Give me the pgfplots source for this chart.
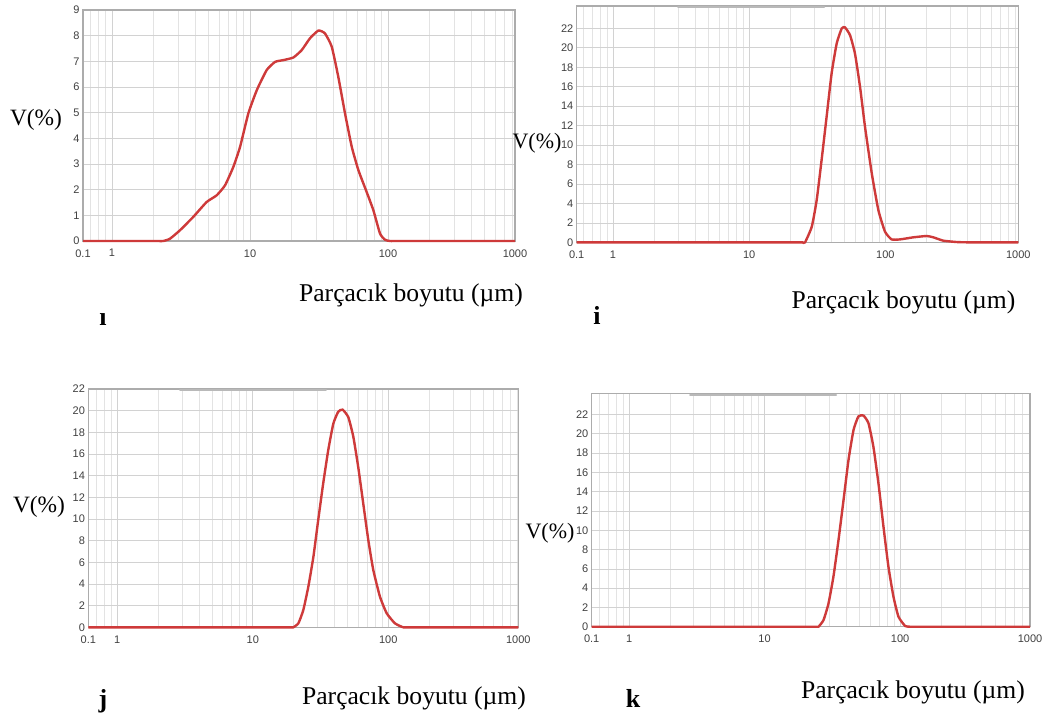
\documentclass[border=0pt]{standalone}
\usepackage{fontspec}
\setmainfont{Liberation Serif}
\newfontfamily\tickfont{Liberation Sans}
\usepackage{pgfplots}
\pgfplotsset{compat=1.18}
\definecolor{psdred}{RGB}{206,58,58}
\pgfplotsset{
  every axis/.append style={
    scale only axis, anchor=south west, ymin=0,
    grid=both,
    major grid style={gray!35, line width=0.35pt},
    minor grid style={gray!22, line width=0.3pt},
    axis line style={gray!65, line width=0.6pt},
    major tick length=0pt, minor tick length=0pt,
    tick style={draw=none},
    xticklabel style={font={\tickfont\fontsize{5.5pt}{6pt}\selectfont}, text=black!75, inner sep=1.5pt, yshift=-2.5pt},
    yticklabel style={font={\tickfont\fontsize{5.5pt}{6pt}\selectfont}, text=black!75, inner sep=1.5pt},
    clip=false,
  },
}
\begin{document}
\begin{tikzpicture}
\useasboundingbox (0pt,0pt) rectangle (527.5pt,-360pt);
\fill[white] (0pt,0pt) rectangle (527.5pt,-360pt);

% ---------------- panel ı ----------------
\begin{axis}[xmode=log, at={(41.5pt,-120.5pt)}, width=216pt, height=115.5pt,
  xmin=0.616, xmax=832, ymax=9, ytick={0,1,...,9},
  xtick={0.616,1,10,100,832}, xticklabels={0.1,1,10,100,1000},
  minor xtick={0.7,0.8,0.9,2,3,4,5,6,7,8,9,20,30,40,50,60,70,80,90,200,300,400,500,600,700,800},
  /pgf/number format/assume math mode=true]
\addplot[psdred, line width=1.2pt, smooth, tension=0.3] coordinates {
(0.616,0) (1,0) (2.1,0) (2.35,0) (2.63,0.09) (3.11,0.42) (3.88,0.94) (4.85,1.52) (5.73,1.78)
(6.59,2.17) (7.57,2.89) (8.47,3.67) (9.72,4.97) (11.2,5.88) (13.2,6.66) (15.2,6.98)
(17.5,7.05) (20.6,7.15) (23.7,7.44) (27.2,7.9) (31.3,8.2) (34.9,8.09) (39.1,7.57)
(43.6,6.4) (48.8,4.97) (54.6,3.67) (61.0,2.76) (70.0,1.91) (78.3,1.2) (87.5,0.29)
(95.1,0.05) (103,0) (115,0) (300,0) (832,0)};
\end{axis}

% ---------------- panel i ----------------
\begin{axis}[xmode=log, at={(288.35pt,-121.15pt)}, width=220.8pt, height=118.15pt,
  xmin=0.541, xmax=946, ymax=24.3, ytick={0,2,...,22},
  xtick={0.541,1,10,100,946}, xticklabels={0.1,1,10,100,1000},
  minor xtick={0.6,0.7,0.8,0.9,2,3,4,5,6,7,8,9,20,30,40,50,60,70,80,90,200,300,400,500,600,700,800,900},
  /pgf/number format/assume math mode=true]
\addplot[psdred, line width=1.2pt, smooth, tension=0.3] coordinates {
(0.541,0) (1,0) (10,0) (22,0) (24.5,0) (25.7,0) (28.8,1.61) (31.3,4.35) (34.0,8.46) (37.0,12.9)
(40.3,17.4) (43.9,20.46) (47.8,22.0) (50.5,22.1) (55.0,21.3) (59.8,19.4) (65.1,16.0)
(70.8,11.9) (79.4,7.1) (88.8,3.3) (99.3,1.1) (111,0.3) (128,0.3) (160,0.51)
(201,0.65) (225,0.51) (266,0.17) (333,0.03) (400,0) (946,0)};
\end{axis}

% ---------------- panel j ----------------
\begin{axis}[xmode=log, at={(44.15pt,-313.65pt)}, width=215pt, height=119.15pt,
  xmin=0.611, xmax=911, ymax=22, ytick={0,2,...,22},
  xtick={0.611,1,10,100,911}, xticklabels={0.1,1,10,100,1000},
  minor xtick={0.7,0.8,0.9,2,3,4,5,6,7,8,9,20,30,40,50,60,70,80,90,200,300,400,500,600,700,800,900},
  /pgf/number format/assume math mode=true]
\addplot[psdred, line width=1.2pt, smooth, tension=0.3] coordinates {
(0.611,0) (1,0) (10,0) (17.5,0) (19.0,0) (19.9,0) (21.7,0.37) (23.6,1.6) (25.7,3.75) (28.0,6.5)
(30.4,9.9) (33.1,13.3) (36.1,16.4) (39.3,18.8) (42.7,19.9) (46.0,20.1) (50.7,19.4)
(55.2,17.6) (60.0,14.8) (65.4,11.4) (71.2,8.06) (77.5,5.3) (86.8,2.83) (97.3,1.3)
(112,0.37) (129,0) (145,0) (300,0) (911,0)};
\end{axis}

% ---------------- panel k ----------------
\begin{axis}[xmode=log, at={(295.85pt,-313.35pt)}, width=219.15pt, height=116.7pt,
  xmin=0.53, xmax=908, ymax=24.2, ytick={0,2,...,22},
  xtick={0.53,1,10,100,908}, xticklabels={0.1,1,10,100,1000},
  minor xtick={0.6,0.7,0.8,0.9,2,3,4,5,6,7,8,9,20,30,40,50,60,70,80,90,200,300,400,500,600,700,800,900},
  /pgf/number format/assume math mode=true]
\addplot[psdred, line width=1.2pt, smooth, tension=0.3] coordinates {
(0.53,0) (1,0) (10,0) (22,0) (24,0) (25.0,0) (27.2,0.69) (29.6,2.4) (32.2,5.2) (35.1,9.0)
(38.2,13.1) (41.6,17.3) (45.3,20.4) (49.2,21.8) (53.6,21.9) (58.4,21.1) (63.5,18.65)
(69.2,14.85) (75.3,10.4) (82.0,6.2) (89.3,3.1) (97.2,1.04) (109,0.07) (120,0) (135,0)
(300,0) (908,0)};
\end{axis}

% faint blurred header remnants on the top frames
\draw[gray!55, line width=1pt, line cap=round] (339pt,-3.6pt) -- (412pt,-3.6pt);
\draw[gray!55, line width=1pt, line cap=round] (90pt,-195.2pt) -- (163pt,-195.2pt);
\draw[gray!55, line width=1pt, line cap=round] (345pt,-197.3pt) -- (418pt,-197.3pt);

% ---------------- texts ----------------
\begin{scope}[every node/.style={inner sep=0pt}]
\node[font=\fontsize{11.7pt}{13pt}\selectfont] at (18pt,-60pt) {V(\%)};
\node[font=\fontsize{11pt}{12pt}\selectfont] at (268.5pt,-71.5pt) {V(\%)};
\node[font=\fontsize{11.7pt}{13pt}\selectfont] at (19.5pt,-253.5pt) {V(\%)};
\node[font=\fontsize{11pt}{12pt}\selectfont] at (275pt,-266.5pt) {V(\%)};

\node[font=\fontsize{12.8pt}{14pt}\selectfont] at (205.5pt,-147.5pt) {Parçacık boyutu (µm)};
\node[font=\fontsize{12.8pt}{14pt}\selectfont] at (451.75pt,-151pt) {Parçacık boyutu (µm)};
\node[font=\fontsize{12.8pt}{14pt}\selectfont] at (207pt,-349pt) {Parçacık boyutu (µm)};
\node[font=\fontsize{12.8pt}{14pt}\selectfont] at (456.5pt,-346pt) {Parçacık boyutu (µm)};

\node[font=\bfseries\fontsize{13pt}{14pt}\selectfont] at (51.5pt,-160pt) {ı};
\node[font=\bfseries\fontsize{13pt}{14pt}\selectfont] at (298.5pt,-157.5pt) {i};
\node[font=\bfseries\fontsize{13pt}{14pt}\selectfont] at (51.5pt,-350.5pt) {j};
\node[font=\bfseries\fontsize{13pt}{14pt}\selectfont] at (316.5pt,-349pt) {k};
\end{scope}
\end{tikzpicture}
\end{document}
